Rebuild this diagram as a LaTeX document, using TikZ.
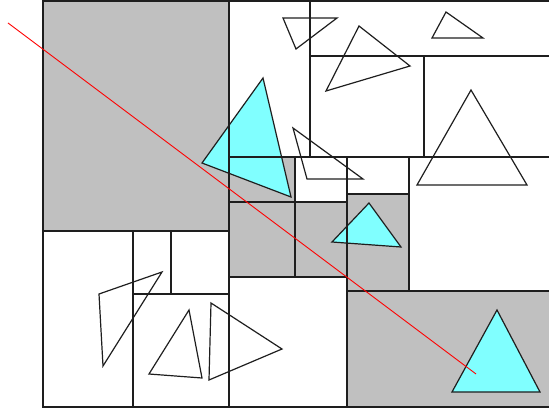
\documentclass[tikz,border=0pt]{standalone}
\usetikzlibrary{calc}
\definecolor{cellgrey}{RGB}{192,192,192}
\definecolor{hitcyan}{RGB}{128,255,255}
\definecolor{rayred}{RGB}{255,0,0}
\definecolor{edgedark}{RGB}{30,30,30}

\begin{document}
\begin{tikzpicture}[
    x=1pt, y=-1pt,
    cell/.style={draw=edgedark, line width=1.6pt},
    full/.style={fill=cellgrey},
    tri/.style={draw=edgedark, line width=1.2pt, line join=miter},
    hit/.style={fill=hitcyan},
    ray/.style={draw=rayred, line width=0.9pt},
]

\useasboundingbox (0,0) rectangle (549,412);
\clip (0,0) rectangle (549,412);

% ===== 灰色 cells =====
\fill[full] (43,1) rectangle (229,231);
\fill[full] (229,157) rectangle (295,202);
\fill[full] (229,202) rectangle (347,277);
\fill[full] (347,194) rectangle (409,291);
\fill[full] (347,291) rectangle (552,407);

% ===== 命中的三角形 (fill) =====
\fill[hit] (263,78) -- (202,163) -- (291,197) -- cycle;
\fill[hit] (369,203) -- (332,242) -- (401,247) -- cycle;
\fill[hit] (497,310) -- (452,392) -- (540,392) -- cycle;

% ===== 网格 =====
\draw[cell] (43,1) rectangle (552,407);
\draw[cell] (229,1) -- (229,407);
\draw[cell] (310,1) -- (310,157);
\draw[cell] (310,56) -- (552,56);
\draw[cell] (424,56) -- (424,157);
\draw[cell] (229,157) -- (552,157);
\draw[cell] (295,157) -- (295,277);
\draw[cell] (347,157) -- (347,407);
\draw[cell] (409,157) -- (409,291);
\draw[cell] (347,194) -- (409,194);
\draw[cell] (229,202) -- (347,202);
\draw[cell] (229,277) -- (347,277);
\draw[cell] (347,291) -- (552,291);
% 左下
\draw[cell] (43,231) -- (229,231);
\draw[cell] (133,231) -- (133,407);
\draw[cell] (171,231) -- (171,294);
\draw[cell] (133,294) -- (229,294);

% ===== 三角形 (outline) =====
\foreach \ax/\ay/\bx/\by/\cx/\cy in {
    263/78/202/163/291/197, 369/203/332/242/401/247, 497/310/452/392/540/392,
    283/18/337/18/296/49, 359/26/410/66/326/91, 446/12/432/38/483/38,
    471/90/417/185/527/185, 293/128/307/179/363/179,
    99/294/162/272/103/366, 189/310/149/374/202/378, 211/303/209/380/282/349} {
    \draw[tri] (\ax,\ay) -- (\bx,\by) -- (\cx,\cy) -- cycle;
}

% ===== 射线 =====
\coordinate (raystart) at (8,23);
\coordinate (rayend) at (476,374);
\draw[ray] (raystart) -- (rayend);

\end{tikzpicture}
\end{document}
